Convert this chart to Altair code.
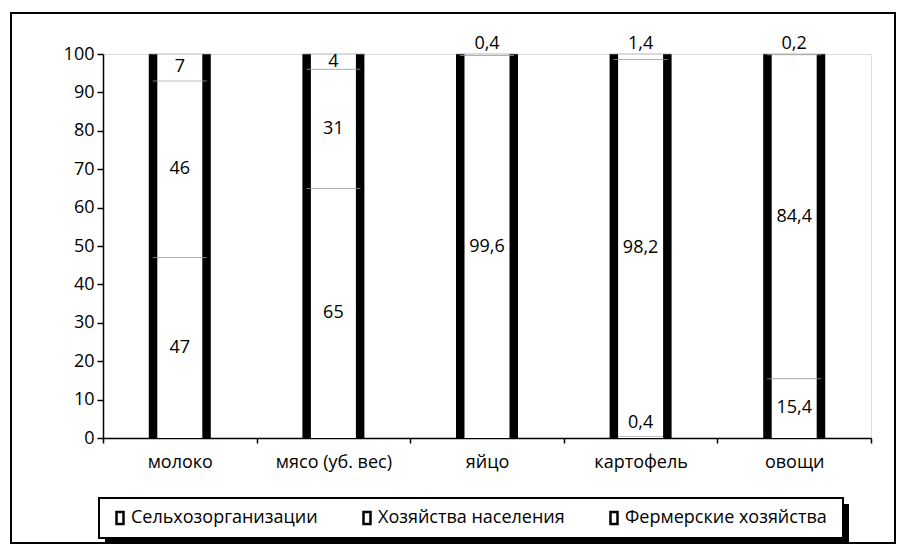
import altair as alt
import pandas as pd

categories = ["молоко", "мясо (уб. вес)", "яйцо", "картофель", "овощи"]
series = ["Сельхозорганизации", "Хозяйства населения", "Фермерские хозяйства"]
selhoz = [47, 65, 0, 0.4, 15.4]
naselenie = [46, 31, 99.6, 98.2, 84.4]
fermer = [7, 4, 0.4, 1.4, 0.2]
y_ticks = [0, 10, 20, 30, 40, 50, 60, 70, 80, 90, 100]

rows = []
for i, c in enumerate(categories):
    base = 0.0
    for j, (s, vals) in enumerate(zip(series, [selhoz, naselenie, fermer])):
        v = vals[i]
        rows.append({"cat": c, "series": s, "order": j, "value": v,
                     "y0": base, "y1": base + v,
                     "label": ("" if v == 0 else (f"{v:g}".replace(".", ","))),
                     "mid": base + v / 2})
        base += v
df = pd.DataFrame(rows)

# label placement: tiny segments at top go above the bar, tiny at bottom sit near axis
def lab_pos(r):
    if r["value"] < 2 and r["y1"] >= 99.9:
        return 102.6
    if r["value"] < 2 and r["y0"] <= 0.01:
        return 4.0
    return r["mid"]

df["ly"] = df.apply(lab_pos, axis=1)
totals = pd.DataFrame({"cat": categories, "total": [100] * 5})
bounds = df[(df["y1"] > 0.5) & (df["y1"] < 99.9) & (df["value"] > 0)].copy()

FONT = "Open Sans"
FS = 18
W, H = 768, 384

xscale = alt.Scale(domain=categories, paddingInner=0, paddingOuter=0)
yscale = alt.Scale(domain=[0, 100], nice=False)
xaxis = alt.Axis(labelFontSize=FS, labelFont=FONT, labelColor="#000",
                 labelAngle=0, domainColor="#000", domainWidth=1.5,
                 ticks=True, tickColor="#000", tickSize=5, tickWidth=1.5,
                 tickBand="extent", labelPadding=10)
yaxis = alt.Axis(values=y_ticks, labelFontSize=FS, labelFont=FONT, labelColor="#000",
                 domainColor="#000", domainWidth=1.5, tickColor="#000", tickWidth=1.5,
                 tickSize=6, labelPadding=3, grid=False, labelOverlap=False)

X = lambda: alt.X("cat:N", sort=categories, scale=xscale, title=None, axis=xaxis)

outer = alt.Chart(totals).mark_bar(color="#000", size=62).encode(
    x=X(),
    y=alt.Y("total:Q", scale=yscale, title=None, axis=yaxis),
)

legend_path = "M-0.7,-1.2H0.7V1.2H-0.7Z"
inner = alt.Chart(df).mark_bar(size=45).encode(
    x=X(),
    y=alt.Y("y0:Q", scale=yscale, title=None, axis=yaxis),
    y2="y1:Q",
    color=alt.Color("series:N", sort=series,
                    scale=alt.Scale(domain=series, range=["#fff", "#fff", "#fff"]),
                    legend=alt.Legend(title=None, orient="none", direction="horizontal",
                                      legendX=8, legendY=455,
                                      labelFont=FONT, labelFontSize=FS, labelColor="#000",
                                      symbolType=legend_path, symbolSize=100,
                                      symbolStrokeColor="#000", symbolStrokeWidth=2.5,
                                      symbolFillColor="#fff", labelOffset=2,
                                      padding=0, columnPadding=40, labelLimit=400)),
)

sep = alt.Chart(bounds).mark_tick(color="#aaa", thickness=1, size=54).encode(
    x=X(),
    y=alt.Y("y1:Q", scale=yscale, title=None, axis=yaxis),
)
topline = alt.Chart(totals).mark_tick(color="#999", thickness=1, size=62).encode(
    x=X(),
    y=alt.Y("total:Q", scale=yscale, title=None, axis=yaxis),
)

labels = alt.Chart(df[df["label"] != ""]).mark_text(
    font=FONT, fontSize=FS, color="#000", baseline="middle").encode(
    x=X(),
    y=alt.Y("ly:Q", scale=yscale, title=None, axis=yaxis),
    text="label:N",
)

frame_df = pd.DataFrame({"k": [0]})
frame = alt.Chart(frame_df).mark_rect(fill="#fff", fillOpacity=0, stroke="#000",
                                      strokeWidth=2).encode(
    x=alt.value(-92), x2=alt.value(792), y=alt.value(-41), y2=alt.value(489))
legend_shadow = alt.Chart(frame_df).mark_rect(fill="#000").encode(
    x=alt.value(2), x2=alt.value(746), y=alt.value(450), y2=alt.value(489))
legend_box = alt.Chart(frame_df).mark_rect(fill="#fff", stroke="#000",
                                           strokeWidth=2).encode(
    x=alt.value(-4), x2=alt.value(740), y=alt.value(444), y2=alt.value(484))

chart = alt.layer(frame, legend_shadow, legend_box, outer, inner, sep, topline,
                  labels).properties(
    width=W, height=H, padding={"left": 95, "top": 46, "right": 26, "bottom": 106},
    autosize=alt.AutoSizeParams(type="none"),
).configure_view(stroke=None).configure(background="#fff")

chart.save("out.html", embed_options={"renderer": "svg", "actions": False})
